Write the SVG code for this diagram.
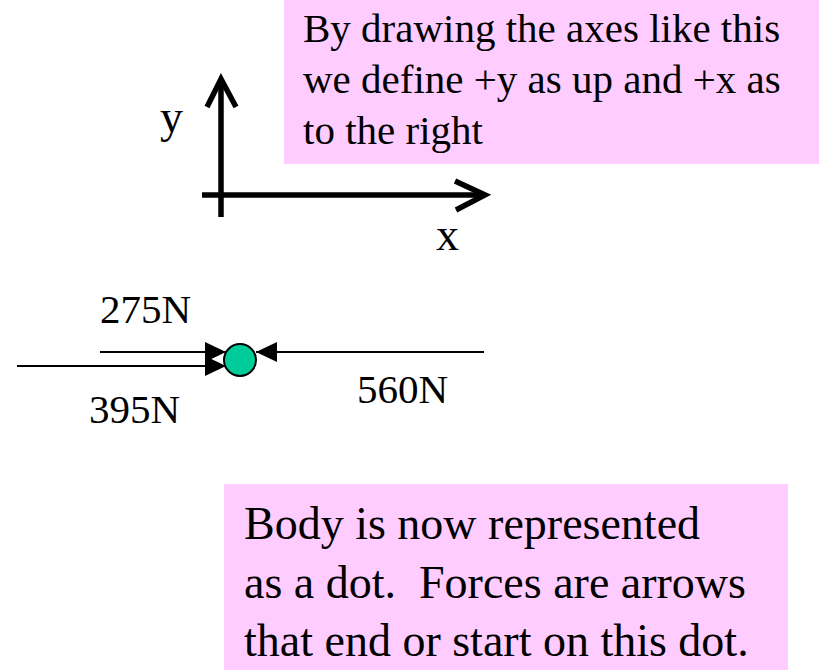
<svg xmlns="http://www.w3.org/2000/svg" width="819" height="670" viewBox="0 0 819 670">
  <style>
    .note { fill: #FFCCFF; stroke: none; }
    .txt { font-family: "Liberation Serif", "Times New Roman", serif; fill: #000; }
    .big { font-size: 41px; }
    .body { font-size: 46px; }
    .axis { fill: none; stroke: #000; stroke-width: 5.5; stroke-linecap: butt; stroke-linejoin: miter; }
    .force { fill: none; stroke: #000; stroke-width: 2; }
  </style>
  <defs>
    <marker id="tri" markerUnits="userSpaceOnUse" markerWidth="22" markerHeight="22" viewBox="0 0 22 22" refX="21" refY="11" orient="auto">
      <path d="M0,1 L21,11 L0,21 Z" fill="#000"/>
    </marker>
  </defs>
  <rect width="819" height="670" fill="#fff"/>

  <g id="note-axes">
    <rect class="note" x="284" y="0" width="535" height="164"/>
    <text class="txt big" x="303" y="42">By drawing the axes like this</text>
    <text class="txt big" x="303" y="93">we define +y as up and +x as</text>
    <text class="txt big" x="303" y="144">to the right</text>
  </g>

  <g id="axes">
    <line class="axis" x1="221" y1="80" x2="221" y2="217"/>
    <polyline class="axis" points="207,107 221,79 236,107"/>
    <line class="axis" x1="202" y1="195" x2="485" y2="195"/>
    <polyline class="axis" points="455,181 485,195 456,210"/>
    <text class="txt body" x="160" y="132">y</text>
    <text class="txt body" x="436" y="250">x</text>
  </g>

  <g id="connectors">
    <line id="f275" class="force" x1="100" y1="352" x2="226" y2="352" marker-end="url(#tri)"/>
    <line id="f395" class="force" x1="17" y1="366" x2="226" y2="366" marker-end="url(#tri)"/>
    <line id="f560" class="force" x1="484" y1="352" x2="256" y2="352" marker-end="url(#tri)"/>
  </g>

  <g id="body-dot">
    <circle cx="240" cy="360" r="16" fill="#00CC99" stroke="#000" stroke-width="2"/>
  </g>

  <g id="labels">
    <text class="txt big" x="100" y="323">275N</text>
    <text class="txt big" x="89" y="423">395N</text>
    <text class="txt big" x="357" y="403">560N</text>
  </g>

  <g id="note-body">
    <rect class="note" x="224" y="484" width="564" height="186"/>
    <text class="txt body" x="244" y="539">Body is now represented</text>
    <text class="txt body" x="244" y="598" xml:space="preserve">as a dot.  Forces are arrows</text>
    <text class="txt body" x="244" y="656">that end or start on this dot.</text>
  </g>
</svg>
